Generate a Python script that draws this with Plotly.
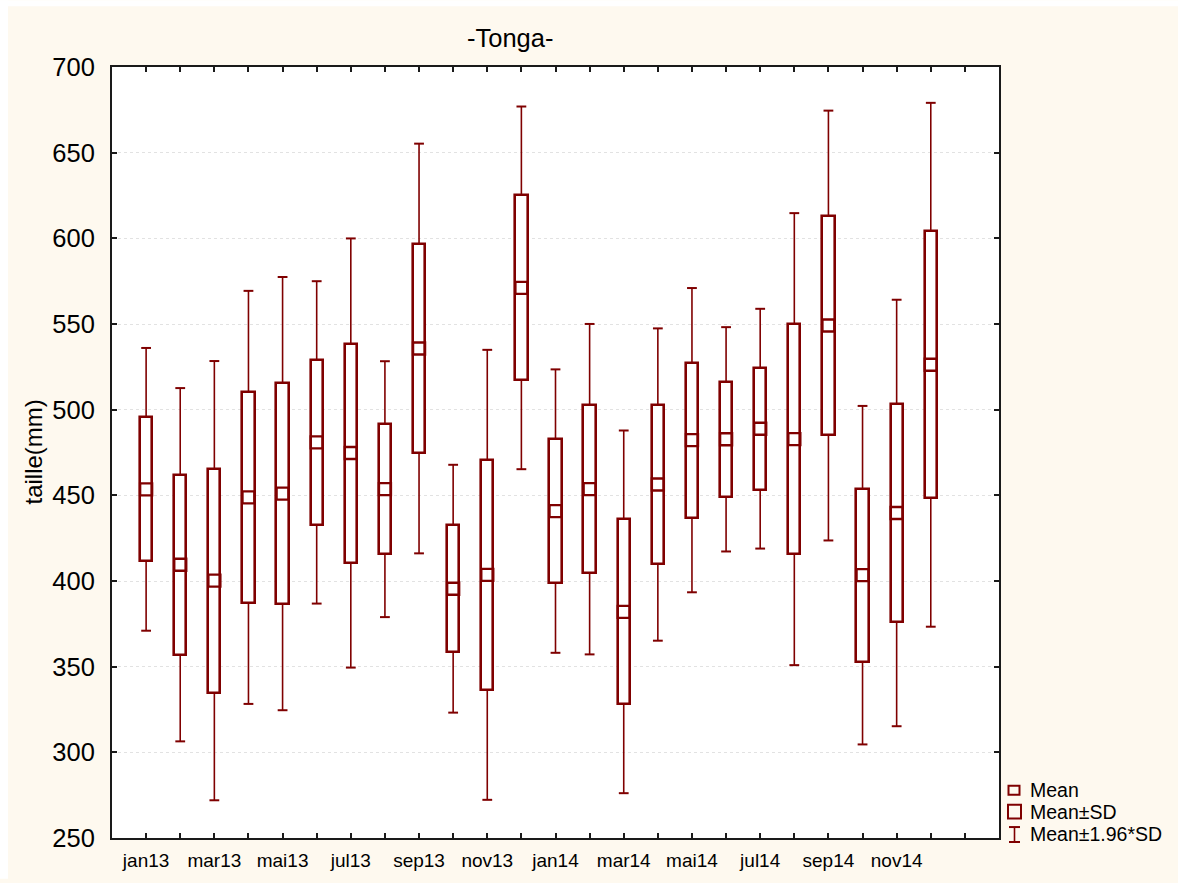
import plotly.graph_objects as go

# Monthly size statistics (mm): mean and standard deviation per month
months = ["jan13", "fev13", "mar13", "avr13", "mai13", "jun13", "jul13", "aou13",
          "sep13", "oct13", "nov13", "dec13", "jan14", "fev14", "mar14", "avr14",
          "mai14", "jun14", "jul14", "aou14", "sep14", "oct14", "nov14", "dec14"]
mean_mm = [453.5, 409.5, 400.2, 448.8, 451.0, 480.9, 474.7, 453.6,
           535.7, 395.5, 403.6, 571.1, 440.8, 453.6, 382.0, 456.3,
           482.2, 482.7, 488.9, 482.8, 549.1, 403.4, 439.7, 526.2]
sd_mm = [42.1, 52.6, 65.4, 61.5, 64.5, 48.0, 63.9, 38.1,
         61.0, 36.9, 67.0, 54.0, 42.2, 49.2, 54.0, 46.5,
         45.3, 33.4, 35.7, 67.3, 64.0, 50.4, 63.5, 78.0]
y_ticks = [250, 300, 350, 400, 450, 500, 550, 600, 650, 700]
z_factor = 1.96

RED = "#7f0000"
INK = "#1a1a1a"
BG = "#fef9ef"
FONT = "Liberation Sans, Arial, sans-serif"

pos = list(range(1, len(months) + 1))
sd_lo = [m - s for m, s in zip(mean_mm, sd_mm)]
sd_hi = [m + s for m, s in zip(mean_mm, sd_mm)]
ci_lo = [m - z_factor * s for m, s in zip(mean_mm, sd_mm)]
ci_hi = [m + z_factor * s for m, s in zip(mean_mm, sd_mm)]

# whisker stems outside the SD box
wx, wy = [], []
for p, a, b, c, d in zip(pos, ci_lo, sd_lo, sd_hi, ci_hi):
    wx += [p, p, None, p, p, None]
    wy += [a, b, None, c, d, None]

fig = go.Figure()
fig.add_trace(go.Scatter(x=wx, y=wy, mode="lines",
                         line=dict(color=RED, width=1.6), showlegend=False,
                         hoverinfo="skip"))
fig.add_trace(go.Scatter(x=pos + pos, y=ci_lo + ci_hi, mode="markers",
                         marker=dict(symbol="line-ew", size=7, color=RED,
                                     line=dict(color=RED, width=2)),
                         showlegend=False, name="Mean±1.96*SD"))
fig.add_trace(go.Bar(x=pos, y=[2 * s for s in sd_mm], base=sd_lo, width=0.36,
                     marker=dict(color="white", line=dict(color=RED, width=2.6)),
                     showlegend=False, name="Mean±SD"))
fig.add_trace(go.Scatter(x=pos, y=mean_mm, mode="markers",
                         marker=dict(symbol="square-open", size=12, color=RED,
                                     line=dict(color=RED, width=2.4)),
                         showlegend=False, name="Mean"))

# figure geometry (pixels)
W, H = 1178, 883
L, R, T, B = 112, 179, 67, 41
PW, PH = W - L - R, H - T - B


def px(xp):
    return (xp - L) / PW


def py(yp):
    return (H - B - yp) / PH


tickvals = list(range(1, len(months) + 2))
ticktext = [m if i % 2 == 0 else "" for i, m in enumerate(months)] + [""]

shapes = [
    # white margin strips around the cream page
    dict(type="rect", xref="paper", yref="paper", x0=px(0), x1=px(W), y0=py(6), y1=py(0),
         fillcolor="white", line=dict(width=0), layer="below"),
    dict(type="rect", xref="paper", yref="paper", x0=px(0), x1=px(8), y0=py(H), y1=py(0),
         fillcolor="white", line=dict(width=0), layer="below"),
    # legend symbols
    dict(type="rect", xref="paper", yref="paper", x0=px(1008.5), x1=px(1019.5),
         y0=py(798.5), y1=py(789.5), line=dict(color=RED, width=2), fillcolor="rgba(0,0,0,0)"),
    dict(type="rect", xref="paper", yref="paper", x0=px(1008), x1=px(1021),
         y0=py(822.5), y1=py(808.5), line=dict(color=RED, width=2), fillcolor="rgba(0,0,0,0)"),
    dict(type="line", xref="paper", yref="paper", x0=px(1014.5), x1=px(1014.5),
         y0=py(846), y1=py(831), line=dict(color=RED, width=1.6)),
    dict(type="line", xref="paper", yref="paper", x0=px(1009), x1=px(1020),
         y0=py(831), y1=py(831), line=dict(color=RED, width=2)),
    dict(type="line", xref="paper", yref="paper", x0=px(1009), x1=px(1020),
         y0=py(846), y1=py(846), line=dict(color=RED, width=2)),
]

annotations = [
    dict(text="-Tonga-", xref="paper", yref="paper", x=px(509.5), y=py(38),
         showarrow=False, xanchor="center", yanchor="middle",
         font=dict(size=25.5, color="black", family=FONT)),
    dict(text="taille(mm)", xref="paper", yref="paper", x=px(33), y=0.5,
         showarrow=False, textangle=-90, xanchor="center", yanchor="middle",
         font=dict(size=24, color="black", family=FONT)),
]
for label, yc in [("Mean", 794), ("Mean±SD", 816), ("Mean±1.96*SD", 838)]:
    annotations.append(dict(text=label, xref="paper", yref="paper", x=px(1028), y=py(yc),
                            showarrow=False, xanchor="left", yanchor="middle",
                            font=dict(size=19.5, color="black", family=FONT)))

fig.update_layout(
    width=W, height=H,
    margin=dict(l=L, r=R, t=T, b=B, pad=0),
    paper_bgcolor=BG, plot_bgcolor="white",
    font=dict(family=FONT, color="black"),
    showlegend=False,
    shapes=shapes,
    annotations=annotations,
    bargap=0,
)
fig.update_xaxes(range=[0, len(months) + 2], tickmode="array", tickvals=tickvals,
                 ticktext=ticktext, ticks="inside", ticklen=5, tickwidth=1.5,
                 tickcolor=INK, showline=True, linecolor=INK, linewidth=2,
                 mirror="ticks", showgrid=False, zeroline=False,
                 tickfont=dict(size=19, color="black"), ticklabelstandoff=4)
fig.update_yaxes(range=[250, 700], tickmode="array", tickvals=y_ticks,
                 ticks="inside", ticklen=5, tickwidth=1.5, tickcolor=INK,
                 showline=True, linecolor=INK, linewidth=2, mirror="ticks",
                 showgrid=True, gridcolor="#e2e2e2", gridwidth=1, griddash="dot",
                 zeroline=False, tickfont=dict(size=25.5, color="black"),
                 ticklabelstandoff=10)

fig.write_html("out.html")
